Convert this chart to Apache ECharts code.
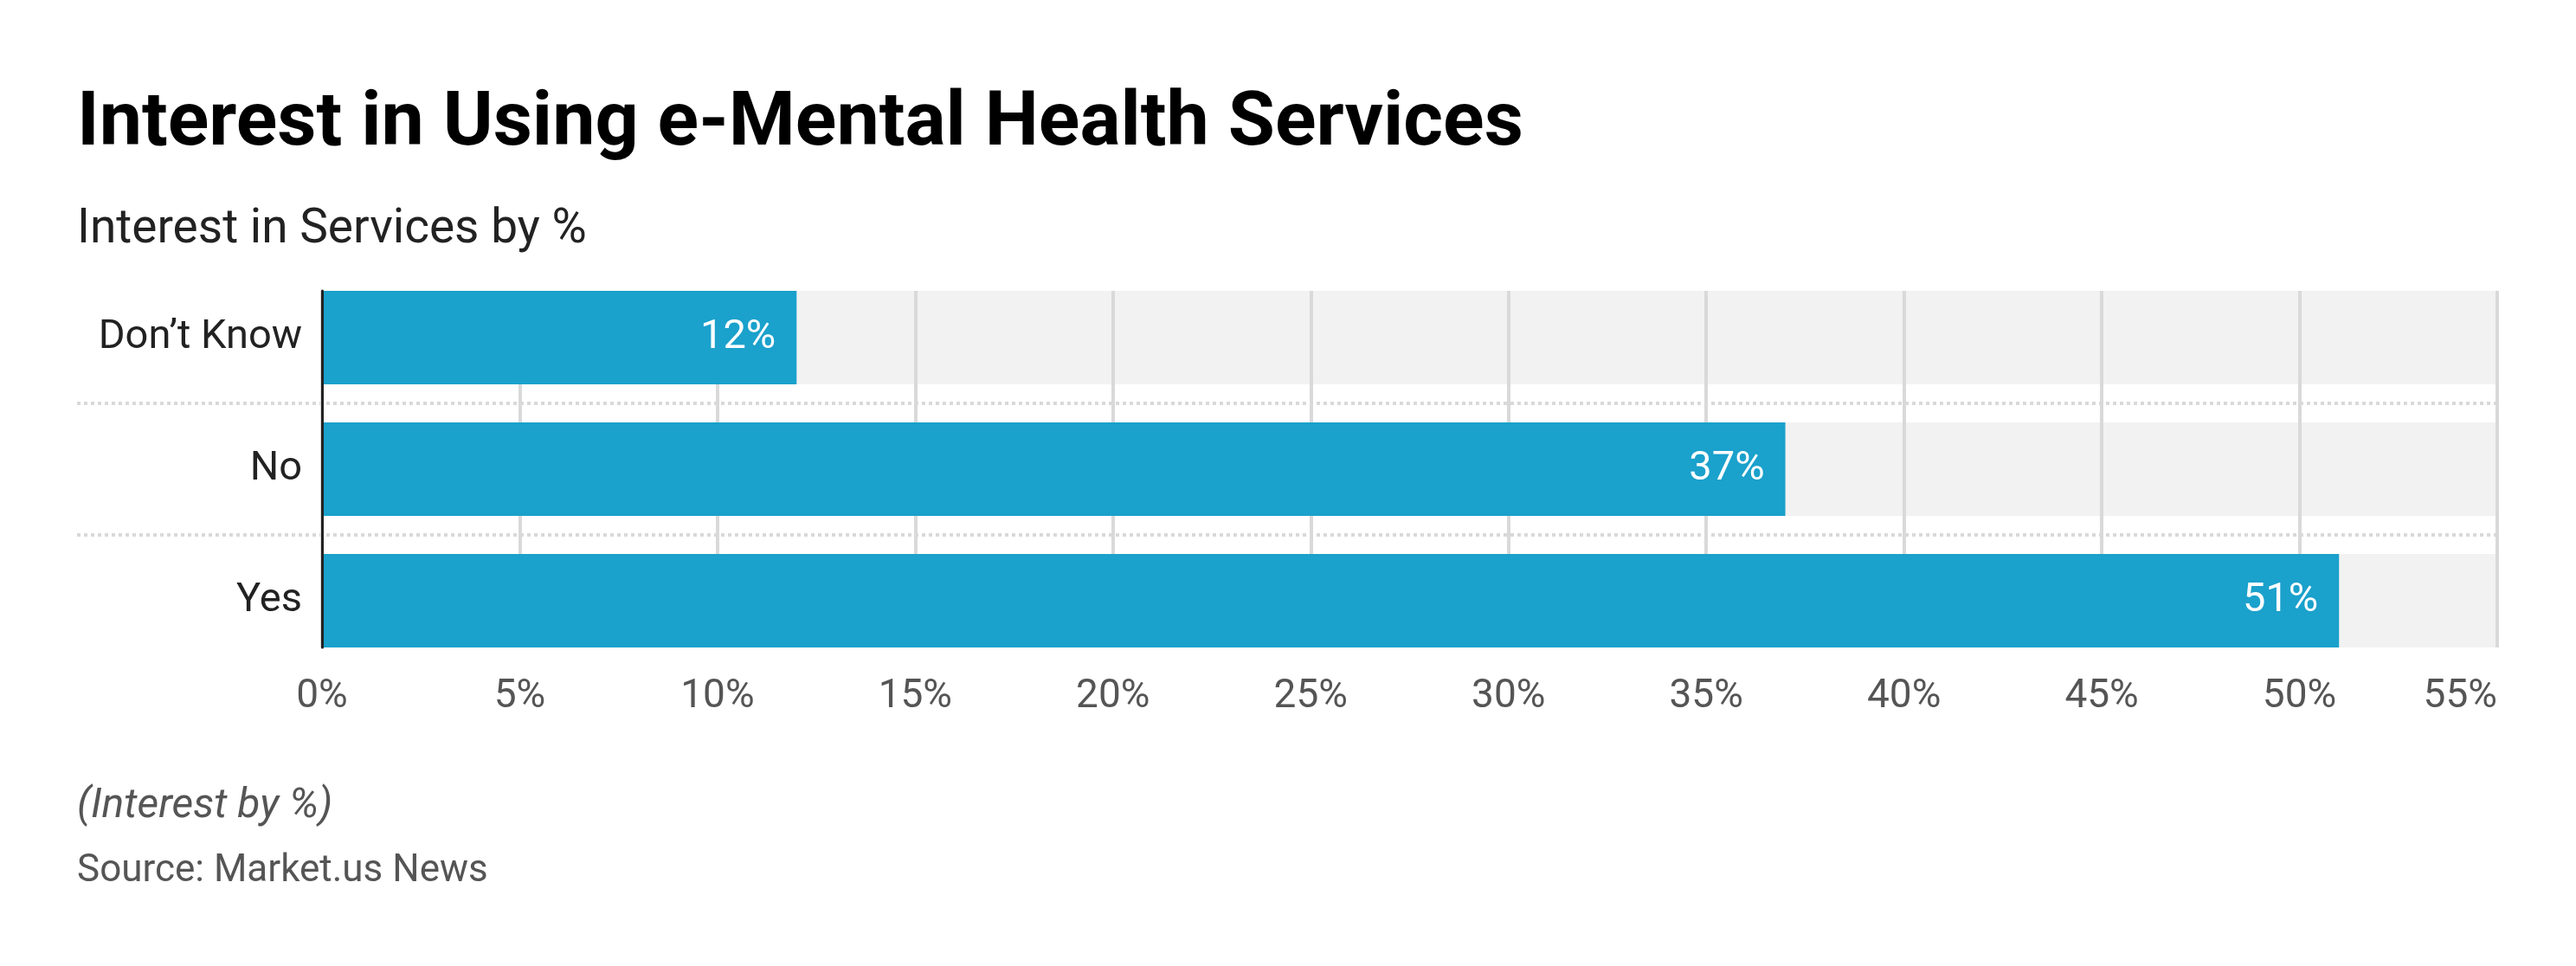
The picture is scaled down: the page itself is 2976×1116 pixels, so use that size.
<!DOCTYPE html>
<html><head><meta charset="utf-8">
<script src="https://cdn.jsdelivr.net/npm/echarts@6/dist/echarts.min.js"></script>
<style>html,body{margin:0;padding:0;background:#fff}#c{width:2976px;height:1116px}</style>
</head><body><div id="c"></div>
<script>
const categories = ["Don\u2019t Know", "No", "Yes"];
const values = [12, 37, 51];
const axisMin = 0;
const axisMax = 55;
const axisStep = 5;
const titleText = 'Interest in Using e-Mental Health Services';
const subtitleText = 'Interest in Services by %';
const noteText = '(Interest by %)';
const sourceText = 'Source: Market.us News';

const FONT = 'Roboto';
const chart = echarts.init(document.getElementById('c'), null, {renderer: 'canvas'});
const option = {
  backgroundColor: '#ffffff',
  animation: false,
  textStyle: {fontFamily: FONT},
  title: [
    {text: titleText, left: 89, top: 101, padding: 0,
     textStyle: {fontFamily: FONT, fontSize: 88, fontWeight: 'bold', color: '#000000'}},
    {text: subtitleText, left: 89, top: 239, padding: 0,
     textStyle: {fontFamily: FONT, fontSize: 55, fontWeight: 'normal', color: '#222222'}},
    {text: noteText, left: 89, top: 908, padding: 0,
     textStyle: {fontFamily: FONT, fontSize: 48, fontStyle: 'italic', fontWeight: 'normal', color: '#555555'}},
    {text: sourceText, left: 89, top: 985, padding: 0,
     textStyle: {fontFamily: FONT, fontSize: 44, fontWeight: 'normal', color: '#555555'}}
  ],
  grid: [
    {left: 372, right: 91, top: 314, bottom: 346},
    {left: 89, right: 91, top: 314, bottom: 346},
    {left: 372, right: 91, top: 336, bottom: 368}
  ],
  xAxis: [
    {gridIndex: 0, type: 'value', min: axisMin, max: axisMax, interval: axisStep,
     axisLine: {show: false}, axisTick: {show: false}, splitLine: {show: false},
     axisLabel: {formatter: '{value}%', fontSize: 46, color: '#555555', margin: 12,
                 alignMaxLabel: 'right'}},
    {gridIndex: 1, type: 'value', min: 0, max: 1, show: false},
    {gridIndex: 2, type: 'value', min: axisMin, max: axisMax, interval: axisStep, z: 2,
     axisLine: {show: false}, axisTick: {show: false}, axisLabel: {show: false},
     splitLine: {show: true, lineStyle: {color: '#d9d9d9', width: 4}}}
  ],
  yAxis: [
    {gridIndex: 0, type: 'category', data: categories, inverse: true, z: 4,
     axisLine: {show: false},
     axisTick: {show: false}, splitLine: {show: false},
     axisLabel: {fontSize: 47, color: '#222222', margin: 23}},
    {gridIndex: 1, type: 'value', min: 0, max: categories.length, interval: 1,
     axisLine: {show: false}, axisTick: {show: false}, axisLabel: {show: false},
     splitLine: {show: true, showMinLine: false, showMaxLine: false,
                 lineStyle: {type: [4, 4], color: '#d9d9d9', width: 4}}},
    {gridIndex: 2, type: 'category', data: categories, inverse: true, z: 5,
     axisLine: {show: true, lineStyle: {color: '#222222', width: 3}},
     axisTick: {show: false}, axisLabel: {show: false}, splitLine: {show: false}}
  ],
  series: [
    {type: 'bar', name: 'bg', xAxisIndex: 0, yAxisIndex: 0, silent: true, z: 1,
     data: categories.map(() => axisMax), barWidth: 108, barGap: '-100%',
     itemStyle: {color: '#f2f2f2'}},
    {type: 'bar', name: 'Interest', xAxisIndex: 0, yAxisIndex: 0, z: 3,
     data: values, barWidth: 108, barGap: '-100%',
     itemStyle: {color: '#1aa1cc'},
     label: {show: true, position: 'insideRight', distance: 24, formatter: '{c}%',
             color: '#ffffff', fontSize: 47, fontFamily: FONT}}
  ]
};
chart.setOption(option);
</script>
</body></html>
